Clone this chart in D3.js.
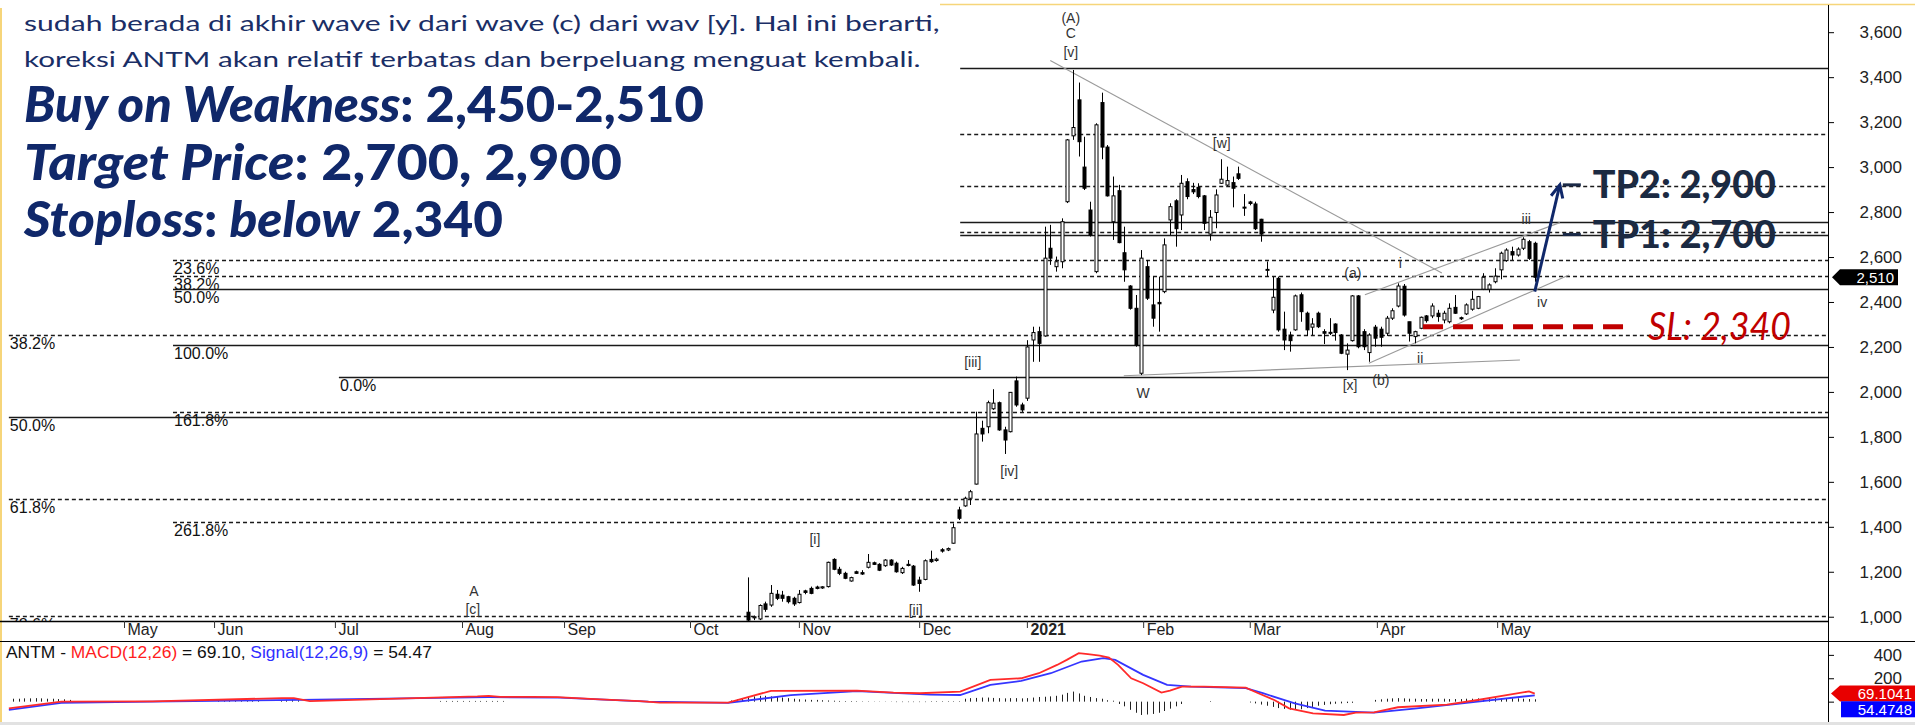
<!DOCTYPE html>
<html>
<head>
<meta charset="utf-8">
<script src="https://cdn.jsdelivr.net/npm/d3@7"></script>
<style>
  body { margin: 0; background: #fff; }
  svg { display: block; }
  .ax text { font-family: "Liberation Sans", Arial, sans-serif; }
</style>
</head>
<body>
<svg id="chart" width="1915" height="725"></svg>
<script>
// ---- data (index = trading day, 0 = first day of May 2020) ----
const monthLabels = ['May', 'Jun', 'Jul', 'Aug', 'Sep', 'Oct', 'Nov', 'Dec', '2021', 'Feb', 'Mar', 'Apr', 'May'];
const monthIdx = [0, 15.8, 37, 59.3, 77.2, 99.3, 118.4, 139.5, 158.4, 178.8, 197.5, 219.8, 240.9];

const priceTicks = [1000, 1200, 1400, 1600, 1800, 2000, 2200, 2400, 2600, 2800, 3000, 3200, 3400, 3600];
const macdTicks = [0, 200, 400];

const FIRST_CANDLE = 109;
const opens = [1020, 995, 990, 1057, 1052, 1100, 1096, 1089, 1082, 1063, 1115, 1126, 1132, 1128, 1134, 1255, 1211, 1193, 1159, 1200,
  1196, 1220, 1240, 1233, 1227, 1252, 1238, 1196, 1233, 1225, 1163, 1166, 1255, 1250, 1298, 1297, 1327, 1475, 1493, 1527,
  1590, 1838, 1845, 1925, 1952, 1831, 1823, 2049, 1942, 1972, 2231, 2268, 2249, 2639, 2557, 2579, 2846, 3139, 3299, 3000,
  2809, 2535, 3287, 3089, 2757, 2895, 2619, 2471, 2372, 2083, 2557, 2387, 2398, 2446, 2765, 2850, 2787, 2935, 2900, 2910,
  2872, 2702, 2798, 2928, 2920, 2931, 2970, 2822, 2845, 2836, 2768, 2545, 2364, 2505, 2279, 2253, 2276, 2432, 2350, 2288,
  2350, 2268, 2265, 2302, 2253, 2168, 2228, 2427, 2268, 2175, 2288, 2279, 2261, 2328, 2382, 2470, 2312, 2246, 2283, 2338,
  2338, 2350, 2320, 2312, 2376, 2330, 2347, 2368, 2372, 2457, 2457, 2490, 2543, 2584, 2624, 2609, 2639, 2668, 2661];
const highs = [1175, 1005, 1055, 1067, 1141, 1119, 1115, 1093, 1089, 1119, 1120, 1134, 1138, 1136, 1245, 1260, 1222, 1200, 1178, 1205,
  1207, 1279, 1245, 1238, 1256, 1256, 1245, 1222, 1252, 1230, 1178, 1255, 1294, 1262, 1305, 1308, 1415, 1489, 1534, 1564,
  1912, 1872, 1961, 2012, 1957, 1845, 1999, 2068, 1952, 2230, 2290, 2290, 2735, 2743, 2602, 2772, 3125, 3432, 3376, 3135,
  2846, 3195, 3331, 3098, 2958, 2921, 2735, 2475, 2431, 2631, 2587, 2513, 2513, 2683, 2839, 2857, 2965, 2950, 2930, 2928,
  2876, 2809, 2901, 3035, 3002, 2958, 3002, 2880, 2850, 2846, 2770, 2580, 2513, 2513, 2357, 2268, 2433, 2442, 2357, 2328,
  2357, 2279, 2328, 2305, 2257, 2216, 2431, 2431, 2279, 2261, 2298, 2290, 2338, 2372, 2483, 2480, 2312, 2272, 2335, 2342,
  2394, 2365, 2361, 2394, 2431, 2335, 2394, 2450, 2427, 2528, 2483, 2550, 2624, 2639, 2646, 2643, 2688, 2676, 2668];
const lows = [975, 985, 985, 1022, 1044, 1074, 1067, 1059, 1048, 1059, 1100, 1100, 1122, 1124, 1130, 1207, 1185, 1167, 1156, 1190,
  1186, 1215, 1230, 1203, 1222, 1226, 1196, 1190, 1224, 1137, 1111, 1162, 1240, 1245, 1285, 1292, 1325, 1430, 1489, 1497,
  1588, 1779, 1816, 1920, 1827, 1724, 1820, 1934, 1911, 1960, 2134, 2134, 2246, 2565, 2535, 2550, 2840, 3121, 3047, 2898,
  2691, 2528, 3035, 2869, 2676, 2661, 2490, 2366, 2201, 2075, 2409, 2290, 2268, 2439, 2698, 2646, 2720, 2857, 2880, 2861,
  2720, 2673, 2728, 2925, 2915, 2821, 2943, 2783, 2830, 2720, 2668, 2513, 2350, 2268, 2186, 2179, 2272, 2312, 2249, 2253,
  2284, 2213, 2253, 2228, 2168, 2097, 2224, 2194, 2186, 2134, 2201, 2201, 2249, 2320, 2376, 2335, 2224, 2216, 2279, 2308,
  2328, 2312, 2305, 2305, 2347, 2320, 2342, 2361, 2368, 2453, 2442, 2483, 2501, 2579, 2587, 2602, 2631, 2587, 2490];
const closes = [985, 1000, 1050, 1033, 1104, 1082, 1082, 1067, 1057, 1100, 1108, 1104, 1126, 1133, 1242, 1211, 1193, 1171, 1174, 1193,
  1190, 1242, 1233, 1207, 1252, 1230, 1200, 1215, 1228, 1141, 1148, 1249, 1245, 1256, 1292, 1303, 1396, 1438, 1527, 1556,
  1813, 1813, 1952, 1950, 1831, 1786, 1998, 1942, 1920, 2200, 2264, 2216, 2595, 2595, 2579, 2757, 3121, 3176, 3113, 2906,
  2698, 3188, 3089, 2872, 2872, 2664, 2543, 2372, 2209, 2595, 2417, 2328, 2392, 2654, 2824, 2726, 2928, 2869, 2890, 2869,
  2750, 2777, 2876, 2946, 2940, 2906, 2950, 2818, 2838, 2726, 2702, 2545, 2421, 2276, 2231, 2228, 2427, 2357, 2276, 2302,
  2290, 2261, 2262, 2264, 2172, 2186, 2427, 2201, 2201, 2253, 2239, 2243, 2328, 2361, 2471, 2342, 2261, 2268, 2332, 2317,
  2382, 2335, 2350, 2372, 2350, 2326, 2387, 2412, 2424, 2510, 2476, 2515, 2617, 2631, 2609, 2635, 2679, 2594, 2510];

// MACD(12,26) and Signal(12,26,9) read at chart positions
const macdIdx = [-20.2, -11, 5, 27.7, 29.8, 32.6, 62, 64, 66, 71.6, 76, 83.5, 90.5, 94, 106, 113.5, 128.6, 135, 139.6, 146.7,
  152, 157.4, 160.5, 163.7, 165.4, 167.5, 169.1, 171.2, 172.8, 174.4, 176.7, 178.8, 182, 183.5, 185.6, 189.5, 196.8, 199,
  201.8, 204.4, 208.6, 214, 216.1, 219.3, 223.5, 232.1, 237.5, 242.8, 246.5, 247.5];
const macdVal = [-57, 0, 3, 30, 30, 5, 45, 50, 40, 40, 38, 20, 5, -8, -8, 92, 95, 78, 72, 86,
  186, 200, 243, 314, 357, 414, 406, 394, 377, 314, 200, 157, 77, 94, 129, 129, 120, 72,
  14, -57, -100, -114, -94, -91, -48, -26, 14, 57, 88, 69.1];
const sigIdx = [-20.2, -11, 5, 31, 64, 76.5, 92, 106, 117, 128.6, 141.4, 146.7, 152, 157.4, 162.6, 168, 171.8, 173.9, 178.8,
  183, 187.2, 196.8, 199.8, 205.4, 210.7, 219.3, 226.8, 237.5, 247.5];
const sigVal = [-70, -10, 0, 15, 38, 35, 0, -10, 55, 90, 60, 57, 143, 177, 243, 343, 372, 357, 229,
  143, 129, 115, 72, -14, -77, -94, -57, 0, 54.47];
// histogram runs: [first day index, values...]
const histRuns = [
  [-20, [25, 25, 28, 28, 30, 28, 25, 25, 22, 20, 15]],
  [16, [10, 12, 12, 12, 10, 10, 8, 8]],
  [27, [12, 15, 15, 12]],
  [55, [6, 6, 6, 6, 6, 6, 6, 6, 6, 6, 6, 6]],
  [106, [10, 20, 30, 40, 45, 50, 50, 45, 40, 35, 30, 25,
    20, 18, 15, 15, 12, 10, 8, 6, 5, 5, 4,
    3, 3, 2, 2, 2, 2, -4, -4, -4, -4, -4, -4, 4, 4, 4, 4, 4, 4,
    25, 30, 32, 35, 35, 32, 30, 28, 30, 30, 28, 30, 35, 40, 42, 45, 50, 60, 75, 86, 70, 50, 40, 30, 25, 12, 8,
    -20, -40, -70, -95, -114, -110, -105, -95, -80, -60, -40, -20,
    0, 0, 0, 0, 5, 0, 0, 0, 0, 0, 0,
    -7, -15, -25, -35, -45, -55, -62, -68, -70, -65, -55, -45, -35, -28, -22, -18, -15, -12, -10,
    0, 0, 0, 15, 20, 25, 28, 30, 28, 25, 25,
    22, 22, 25, 25, 25, 22, 22, 22, 25, 25, 28, 28, 30, 30, 30, 30, 28, 28, 25, 22, 20]]
];

// Fibonacci / support-resistance levels
const fibPrice = [3440, 3149, 2918, 2755, 2712, 2700, 2586, 2516, 2458, 2254, 2210, 2068, 1909, 1890, 1525, 1421, 1005];
const fibDashed = [false, true, true, false, true, false, true, true, false, true, false, false, true, false, true, true, true];
const fibStart = [146.7, 146.7, 146.7, 146.7, 146.7, 146.7, 8.6, 8.6, 8.6, -20.2, 8.6, 37.7, 8.6, -20.2, -20.2, 8.6, -20.2];
const fibLabel = ['', '', '', '', '', '', '23.6%', '38.2%', '50.0%', '38.2%', '100.0%', '0.0%', '161.8%', '50.0%', '61.8%', '261.8%', '78.6%'];

// Elliott wave labels
const waveText = ['(A)', 'C', '[v]', '[w]', 'iii', '(a)', 'i', 'iv', 'ii', '[iii]', 'W', '[x]', '(b)', '[iv]', '[i]', 'A', '[c]', '[ii]'];
const waveIdx = [166.1, 166.1, 166.1, 192.6, 246.0, 215.6, 223.9, 248.8, 227.4, 148.9, 178.8, 215.1, 220.5, 155.3, 121.2, 61.4, 61.2, 138.9];
const wavePrice = [3662, 3596, 3514, 3109, 2769, 2529, 2574, 2400, 2151, 2134, 1997, 2031, 2053, 1650, 1344, 1114, 1034, 1030];

// trend lines [idx1, price1, idx2, price2]
const trendLines = [
  [162.5, 3474, 231.2, 2529],
  [175.4, 2072, 244.9, 2142],
  [218.4, 2127, 253.5, 2520],
  [217.7, 2432, 251.9, 2753]
];
const arrowFrom = [247.5, 2446], arrowTo = [251.9, 2921];
const tpPrice = [2921, 2700], tpText = ['TP2: 2,900', 'TP1: 2,700'];
const slPrice = 2290, slRange = [227.9, 264.2];
const lastClose = 2510, lastMacd = 69.1041, lastSignal = 54.4748;

// ---- layout ----
const PLOT_L = 0, PLOT_R = 1828, PLOT_T = 5, PLOT_B = 621;
const MACD_T = 642, MACD_B = 722;
const DAY_W = 5.7, ORIGIN_X = 124;
const NAVY = '#10286a';

const svg = d3.select('svg#chart');
const x = d3.scaleLinear()
  .domain([(PLOT_L - ORIGIN_X) / DAY_W, (PLOT_R - ORIGIN_X) / DAY_W])
  .range([PLOT_L, PLOT_R]);
const y = d3.scaleLinear().domain([981, 3721]).range([PLOT_B, PLOT_T]);
const ym = d3.scaleLinear().domain([-174, 510]).range([MACD_B, MACD_T]);

const defs = svg.append('defs');
defs.append('clipPath').attr('id', 'clipP').append('rect')
  .attr('x', PLOT_L).attr('y', PLOT_T).attr('width', PLOT_R - PLOT_L).attr('height', PLOT_B - PLOT_T);
defs.append('clipPath').attr('id', 'clipM').append('rect')
  .attr('x', PLOT_L).attr('y', MACD_T).attr('width', PLOT_R - PLOT_L).attr('height', MACD_B - MACD_T);

// frame
svg.append('line').attr('x1', 1).attr('x2', 1).attr('y1', 8).attr('y2', 725)
  .attr('stroke', '#f6d57a').attr('stroke-width', 2);
svg.append('line').attr('x1', 940).attr('x2', 1915).attr('y1', 4.5).attr('y2', 4.5)
  .attr('stroke', '#f6d57a').attr('stroke-width', 1.5);

const gp = svg.append('g').attr('clip-path', 'url(#clipP)');

// fib levels
fibPrice.forEach((p, k) => {
  gp.append('line')
    .attr('x1', x(fibStart[k])).attr('x2', PLOT_R)
    .attr('y1', Math.round(y(p)) + 0.5).attr('y2', Math.round(y(p)) + 0.5)
    .attr('stroke', '#1a1a1a')
    .attr('stroke-width', fibDashed[k] ? 1.3 : 1.6)
    .attr('stroke-dasharray', fibDashed[k] ? '4,3' : null);
  if (fibLabel[k]) {
    gp.append('text')
      .attr('x', x(fibStart[k]) + 1).attr('y', y(p) + 14)
      .attr('font-family', '"Liberation Sans", Arial, sans-serif')
      .attr('font-size', 16).attr('fill', '#111')
      .text(fibLabel[k]);
  }
});

// trend lines
gp.selectAll('line.trend').data(trendLines).join('line')
  .attr('class', 'trend')
  .attr('x1', d => x(d[0])).attr('y1', d => y(d[1]))
  .attr('x2', d => x(d[2])).attr('y2', d => y(d[3]))
  .attr('stroke', '#9a9a9a').attr('stroke-width', 1.1);

// candles
const candles = opens.map((o, k) => ({ i: FIRST_CANDLE + k, o, h: highs[k], l: lows[k], c: closes[k] }));
gp.selectAll('line.wick').data(candles).join('line')
  .attr('class', 'wick')
  .attr('x1', d => Math.round(x(d.i + 0.5)) + 0.5).attr('x2', d => Math.round(x(d.i + 0.5)) + 0.5)
  .attr('y1', d => y(d.h)).attr('y2', d => y(d.l))
  .attr('stroke', '#000').attr('stroke-width', 1);
gp.selectAll('rect.body').data(candles).join('rect')
  .attr('class', 'body')
  .attr('x', d => Math.round(x(d.i + 0.5)) - 1)
  .attr('y', d => y(Math.max(d.o, d.c)))
  .attr('width', 3)
  .attr('height', d => Math.max(1, Math.abs(y(d.o) - y(d.c))))
  .attr('fill', d => d.c >= d.o ? '#fff' : '#000')
  .attr('stroke', '#000').attr('stroke-width', 1);

// wave labels
waveText.forEach((t, k) => {
  gp.append('text')
    .attr('x', x(waveIdx[k])).attr('y', y(wavePrice[k]))
    .attr('text-anchor', 'middle').attr('dominant-baseline', 'central')
    .attr('font-family', '"Liberation Sans", Arial, sans-serif')
    .attr('font-size', 14).attr('fill', '#333')
    .text(t);
});

// stop loss dashed line
gp.append('line')
  .attr('x1', x(slRange[0])).attr('x2', x(slRange[1]))
  .attr('y1', y(slPrice)).attr('y2', y(slPrice))
  .attr('stroke', '#c00000').attr('stroke-width', 5).attr('stroke-dasharray', '20,10');

// target markers
tpPrice.forEach(p => {
  gp.append('line')
    .attr('x1', x(arrowTo[0]) + 3).attr('x2', x(arrowTo[0]) + 21)
    .attr('y1', y(p)).attr('y2', y(p))
    .attr('stroke', '#1b2a47').attr('stroke-width', 3);
});

// blue arrow
const ax1 = x(arrowFrom[0]), ay1 = y(arrowFrom[1]), ax2 = x(arrowTo[0]), ay2 = y(arrowTo[1]);
const ang = Math.atan2(ay2 - ay1, ax2 - ax1);
gp.append('line').attr('x1', ax1).attr('y1', ay1).attr('x2', ax2).attr('y2', ay2)
  .attr('stroke', NAVY).attr('stroke-width', 3);
gp.append('path')
  .attr('d', `M${ax2 + 14 * Math.cos(ang + 2.7)},${ay2 + 14 * Math.sin(ang + 2.7)} L${ax2},${ay2} L${ax2 + 14 * Math.cos(ang - 2.7)},${ay2 + 14 * Math.sin(ang - 2.7)}`)
  .attr('fill', 'none').attr('stroke', NAVY).attr('stroke-width', 3);

// helper: squeeze text horizontally to a target width
function fit(sel, target) {
  const b = sel.node().getBBox();
  const k = target / b.width;
  sel.attr('transform', `translate(${b.x},0) scale(${k},1) translate(${-b.x},0)`);
}

// TP / SL labels
tpText.forEach((t, k) => {
  const tx = svg.append('text')
    .attr('x', x(arrowTo[0]) + 33).attr('y', y(tpPrice[k]) + 13)
    .attr('font-family', 'Lato, "Open Sans", sans-serif').attr('font-weight', 900)
    .attr('font-size', 38).attr('fill', '#1b2a42')
    .text(t);
  fit(tx, 183);
});
const slT = svg.append('text')
  .attr('x', x(slRange[1]) + 18).attr('y', y(slPrice) + 13)
  .attr('font-family', 'Lato, "Open Sans", sans-serif').attr('font-style', 'italic')
  .attr('font-size', 38).attr('fill', '#c00000')
  .text('SL: 2,340');
fit(slT, 143);

// x axis
svg.append('line').attr('x1', PLOT_L).attr('x2', PLOT_R).attr('y1', PLOT_B + 0.5).attr('y2', PLOT_B + 0.5)
  .attr('stroke', '#000').attr('stroke-width', 1.5);
const xAxis = d3.axisBottom(x).tickValues(monthIdx).tickSize(7).tickFormat((d, k) => monthLabels[k]);
const gx = svg.append('g').attr('class', 'ax').attr('transform', `translate(0,${PLOT_B})`).call(xAxis);
gx.select('.domain').remove();
gx.selectAll('.tick line').attr('stroke', '#333');
gx.selectAll('.tick text')
  .attr('text-anchor', 'start').attr('x', 3).attr('y', 3).attr('dy', '0.71em')
  .attr('font-size', 16).attr('fill', '#222')
  .attr('font-weight', (d, k) => monthLabels[k] === '2021' ? 700 : 400);

// right price axis
svg.append('line').attr('x1', PLOT_R + 0.5).attr('x2', PLOT_R + 0.5).attr('y1', PLOT_T).attr('y2', MACD_B)
  .attr('stroke', '#000').attr('stroke-width', 1);
const yAxis = d3.axisRight(y).tickValues(priceTicks).tickSize(6).tickFormat(d3.format(','));
const gy = svg.append('g').attr('class', 'ax').attr('transform', `translate(${PLOT_R},0)`).call(yAxis);
gy.select('.domain').remove();
gy.selectAll('.tick text').attr('x', 74).attr('text-anchor', 'end').attr('font-size', 17).attr('fill', '#222');

// last price badge
const by = y(lastClose);
svg.append('path')
  .attr('d', `M${PLOT_R + 4},${by} L${PLOT_R + 12},${by - 8} L${PLOT_R + 70},${by - 8} L${PLOT_R + 70},${by + 8} L${PLOT_R + 12},${by + 8} Z`)
  .attr('fill', '#000');
svg.append('text').attr('x', PLOT_R + 66).attr('y', by + 5.5).attr('text-anchor', 'end')
  .attr('font-family', '"Liberation Sans", Arial, sans-serif').attr('font-size', 15).attr('fill', '#fff')
  .text(d3.format(',')(lastClose));

// ---- MACD panel ----
svg.append('line').attr('x1', PLOT_L).attr('x2', 1915).attr('y1', MACD_T - 0.5).attr('y2', MACD_T - 0.5)
  .attr('stroke', '#000').attr('stroke-width', 1.2);
svg.append('rect').attr('x', 0).attr('y', MACD_B).attr('width', 1915).attr('height', 3).attr('fill', '#e2e2e2');

const title = svg.append('text').attr('x', 6).attr('y', 658)
  .attr('font-family', '"Liberation Sans", Arial, sans-serif').attr('font-size', 16).attr('fill', '#111');
title.append('tspan').text('ANTM - ');
title.append('tspan').attr('fill', '#ff2020').text('MACD(12,26)');
title.append('tspan').text(' = 69.10, ');
title.append('tspan').attr('fill', '#3030ff').text('Signal(12,26,9)');
title.append('tspan').text(' = 54.47');
fit(title, 426);

const gm = svg.append('g').attr('clip-path', 'url(#clipM)');
const bars = [];
histRuns.forEach(([start, vals]) => vals.forEach((v, k) => bars.push({ i: start + k, v })));
gm.selectAll('line.hist').data(bars.filter(d => d.v !== 0)).join('line')
  .attr('class', 'hist')
  .attr('x1', d => Math.round(x(d.i + 0.5)) + 0.5).attr('x2', d => Math.round(x(d.i + 0.5)) + 0.5)
  .attr('y1', ym(0)).attr('y2', d => ym(d.v))
  .attr('stroke', '#222').attr('stroke-width', 1);

const line = d3.line().x(d => x(d[0])).y(d => ym(d[1]));
gm.append('path').datum(sigIdx.map((v, k) => [v, sigVal[k]]))
  .attr('d', line).attr('fill', 'none').attr('stroke', '#3535ff').attr('stroke-width', 1.8);
gm.append('path').datum(macdIdx.map((v, k) => [v, macdVal[k]]))
  .attr('d', line).attr('fill', 'none').attr('stroke', '#ff2a2a').attr('stroke-width', 1.8);

const ymAxis = d3.axisRight(ym).tickValues(macdTicks).tickSize(6).tickFormat(d => d === 0 ? '' : d);
const gym = svg.append('g').attr('class', 'ax').attr('transform', `translate(${PLOT_R},0)`).call(ymAxis);
gym.select('.domain').remove();
gym.selectAll('.tick text').attr('x', 74).attr('text-anchor', 'end').attr('font-size', 17).attr('fill', '#222');

// macd badges
const my1 = ym(lastMacd);
svg.append('path')
  .attr('d', `M${PLOT_R + 3},${my1} L${PLOT_R + 12},${my1 - 8} L1915,${my1 - 8} L1915,${my1 + 8} L${PLOT_R + 12},${my1 + 8} Z`)
  .attr('fill', '#e80000');
svg.append('text').attr('x', 1912).attr('y', my1 + 5.5).attr('text-anchor', 'end')
  .attr('font-family', '"Liberation Sans", Arial, sans-serif').attr('font-size', 15).attr('fill', '#fff')
  .text(lastMacd);
const my2 = ym(lastSignal) + 14;
svg.append('rect').attr('x', PLOT_R + 13).attr('y', my2 - 8).attr('width', 1915 - PLOT_R - 13).attr('height', 16)
  .attr('fill', '#0000ff');
svg.append('text').attr('x', 1912).attr('y', my2 + 5.5).attr('text-anchor', 'end')
  .attr('font-family', '"Liberation Sans", Arial, sans-serif').attr('font-size', 15).attr('fill', '#fff')
  .text(lastSignal);

// ---- commentary text ----
const para = [
  ['sudah berada di akhir wave iv dari wave (c) dari wav [y]. Hal ini berarti,', 31, 916],
  ['koreksi ANTM akan relatif terbatas dan berpeluang menguat kembali.', 67, 897]
];
para.forEach(([t, by0, w]) => {
  const tx = svg.append('text').attr('x', 24).attr('y', by0)
    .attr('font-family', 'Lato, "Open Sans", sans-serif').attr('font-size', 22).attr('fill', '#1a2e66')
    .text(t);
  fit(tx, w);
});

const headline = [
  [[['Buy on Weakness', true], [': 2,450-2,510', false]], 122, 680],
  [[['Target Price', true], [': 2,700, 2,900', false]], 180, 598],
  [[['Stoploss', true], [': ', false], ['below', true], [' 2,340', false]], 237, 480]
];
headline.forEach(([parts, by0, w]) => {
  const tx = svg.append('text').attr('x', 24).attr('y', by0)
    .attr('font-family', 'Lato, "Open Sans", sans-serif').attr('font-weight', 900)
    .attr('font-size', 50).attr('fill', NAVY);
  parts.forEach(([s, it]) => tx.append('tspan').attr('font-style', it ? 'italic' : 'normal').text(s));
  fit(tx, w);
});
</script>
</body>
</html>
